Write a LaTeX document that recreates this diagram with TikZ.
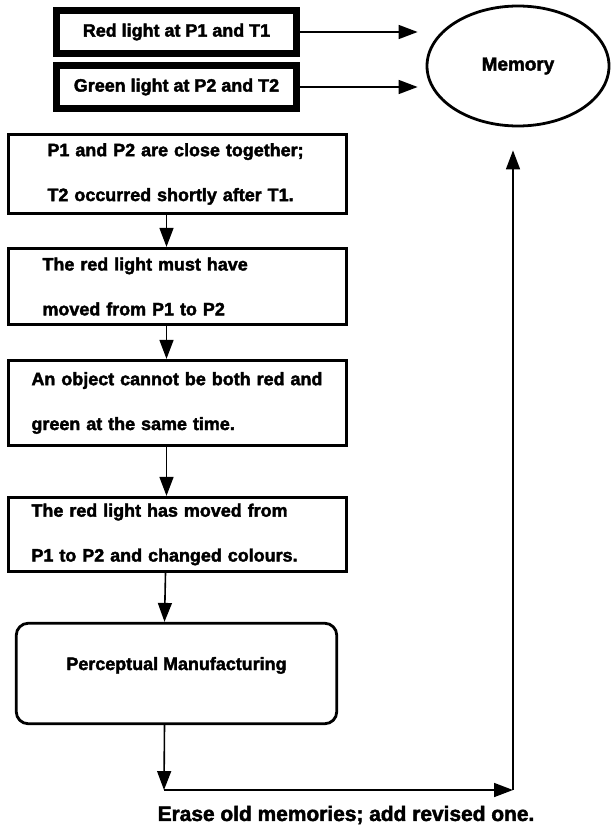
\documentclass[tikz,border=0pt]{standalone}
\usepackage{fontspec}
\setmainfont{Liberation Sans}[BoldFeatures={FakeBold=2.2}]
\usetikzlibrary{arrows.meta, shapes.geometric}

\begin{document}
\begin{tikzpicture}[
    x=1bp, y=-1bp, font=\fontsize{18}{22}\selectfont\bfseries,
    given/.style={draw, line width=7bp, inner sep=0pt,
                  minimum width=240bp, minimum height=43bp},
    stepbox/.style={draw, line width=2.8bp, inner sep=0pt, align=left,
                    text width=#1, minimum width=338bp,
                    font=\fontsize{18}{45}\selectfont\bfseries},
    store/.style={draw, ellipse, line width=2.8bp, inner sep=0pt,
                  minimum width=182bp, minimum height=120bp,
                  font=\fontsize{19}{22}\selectfont\bfseries},
    link/.style={-{Triangle[length=19pt, width=14pt]}, line width=1.6bp},
  ]
    \useasboundingbox (0,0) rectangle (612,827);
    % ---- inputs and memory ----
    \node[given] (red)   at (176.5,32) {Red light at P1 and T1};
    \node[given] (green) at (176.5,87) {Green light at P2 and T2};
    \node[store] (memory) at (518,66) {Memory};
    % ---- inference steps ----
    \node[stepbox=260bp, minimum height=79.5bp] (close) at (177.5,174)
      {P1 and P2 are close together;\\T2 occurred shortly after T1.};
    \node[stepbox=270bp, minimum height=76.5bp] (moved) at (177.5,286.5)
      {The red light must have\\moved from P1 to P2};
    \node[stepbox=292bp, minimum height=85.5bp] (both) at (177.5,403)
      {An object cannot be both red and\\green at the same time.};
    \node[stepbox=292bp, minimum height=74.5bp] (change) at (177.5,534.5)
      {The red light has moved from\\P1 to P2 and changed colours.};
    \node[draw, line width=2.8bp, rounded corners=12bp, inner sep=0pt,
          minimum width=320.5bp, minimum height=100.5bp, text depth=20bp]
      (percept) at (176.5,673.5) {Perceptual Manufacturing};
    \node[font=\fontsize{21}{25}\selectfont\bfseries] (erase) at (346,815)
      {Erase old memories; add revised one.};
    % ---- connectors ----
    \coordinate (turn)   at (164,790);
    \coordinate (corner) at (513,790);
    \draw[link, shorten >=8bp] (red.east)   -- (red.east -| memory.west);
    \draw[link, shorten >=8bp] (green.east) -- (green.east -| memory.west);
    \draw[link] ([xshift=-11bp]close.south)  -- ([xshift=-11bp]moved.north);
    \draw[link] ([xshift=-11bp]moved.south)  -- ([xshift=-11bp]both.north);
    \draw[link] ([xshift=-11bp]both.south)   -- ([xshift=-11bp]change.north);
    \draw[link] ([xshift=-12bp]change.south) -- ([xshift=-12bp]percept.north);
    \draw[link] ([xshift=-12bp]percept.south) -- (turn);
    \draw[link] (turn) -- (corner);
    \draw[link, shorten >=23bp] (corner) -- (corner |- memory.south);
  \end{tikzpicture}
\end{document}
